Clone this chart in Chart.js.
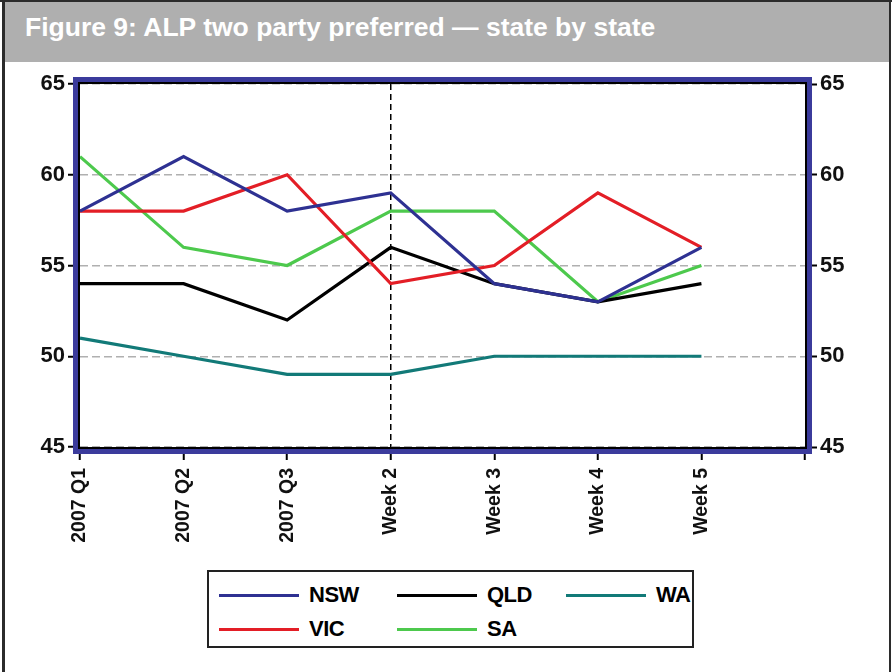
<!DOCTYPE html>
<html>
<head>
<meta charset="utf-8">
<script src="https://cdn.jsdelivr.net/npm/chart.js@4.4.1/dist/chart.umd.min.js"></script>
<style>
  body { margin: 0; background: #fff; font-family: "Liberation Sans", Arial, sans-serif; }
  #wrap { position: relative; width: 892px; height: 672px; overflow: hidden; background: #fff; }
  #edgeL { position: absolute; left: 2px; top: 0; width: 3px; height: 672px; background: #2b2b2b; }
  #edgeT { position: absolute; left: 0; top: 0; width: 892px; height: 2px; background: #2b2b2b; }
  #edgeR { position: absolute; right: 1px; top: 0; width: 2px; height: 672px; background: #2b2b2b; }
  #title { position: absolute; left: 5px; top: 2px; width: 884px; height: 60px; background: #afafaf;
           color: #fff; font-weight: bold; font-size: 26.5px; line-height: 50px; padding-left: 20px; box-sizing: border-box; }
  #box { position: absolute; left: 0; top: 62px; width: 892px; height: 500px; }
  #legend { position: absolute; left: 207px; top: 570px; width: 487px; height: 78px; border: 2px solid #222;
            box-sizing: border-box; display: grid; grid-template-rows: 34px 34px; grid-auto-flow: column;
            grid-template-columns: 178px 169px 130px; padding: 6px 0 0 10px; }
  .item { display: flex; align-items: center; font-weight: bold; font-size: 22px; color: #000; letter-spacing: -0.5px; }
  .item span.ln { display: inline-block; width: 80px; height: 3px; margin-right: 10px; }
</style>
</head>
<body>
<div id="wrap">
  <div id="title">Figure 9: ALP two party preferred — state by state</div>
  <div id="box"><canvas id="myChart"></canvas></div>
  <div id="legend"></div>
  <div id="edgeL"></div><div id="edgeT"></div><div id="edgeR"></div>
</div>
<script>
// categories (last slot is empty, the axis runs one step past Week 5)
const periodos = ["2007 Q1", "2007 Q2", "2007 Q3", "Week 2", "Week 3", "Week 4", "Week 5", ""];

// two party preferred, per state
const nsw = [58, 61, 58, 59, 54, 53, 56];
const vic = [58, 58, 60, 54, 55, 59, 56];
const qld = [54, 54, 52, 56, 54, 53, 54];
const sa  = [61, 56, 55, 58, 58, 53, 55];
const wa  = [51, 50, 49, 49, 50, 50, 50];

const yMin = 45, yMax = 65, yPaso = 5;

function serie(label, data, color) {
  return { label, data, borderColor: color, backgroundColor: color, borderWidth: 3.2,
           pointRadius: 0, tension: 0, fill: false };
}

// marco azul alrededor del area del grafico
const marco = {
  id: "marco",
  afterDraw(chart) {
    const { ctx, chartArea: a } = chart;
    ctx.save();
    ctx.strokeStyle = "#3b3b9c";
    ctx.lineWidth = 6;
    ctx.strokeRect(a.left - 4, a.top - 4, a.right - a.left + 8, a.bottom - a.top + 8);
    ctx.strokeStyle = "#000";
    ctx.lineWidth = 2;
    ctx.strokeRect(a.left - 1, a.top - 1, a.right - a.left + 2, a.bottom - a.top + 2);
    ctx.restore();
  }
};

const fuenteTick = { family: "'Liberation Sans', Arial, sans-serif", weight: "bold", size: 22 };

const config = {
  type: "line",
  data: {
    labels: periodos,
    datasets: [
      serie("NSW", nsw, "#2e3192"),
      serie("VIC", vic, "#e31e26"),
      serie("QLD", qld, "#000000"),
      serie("SA", sa, "#4dc94d"),
      serie("WA", wa, "#127a78"),
    ],
  },
  options: {
    responsive: true,
    maintainAspectRatio: false,
    animation: false,
    layout: { padding: { top: 22, bottom: 12, left: 0, right: 0 } },
    plugins: { legend: { display: false }, tooltip: { enabled: false } },
    scales: {
      x: {
        offset: false,
        afterFit: (s) => { s.height = 103; },
        grid: {
          color: (c) => (c.index === 3 ? "#000" : "rgba(0,0,0,0)"),
          lineWidth: 1.5,
          tickColor: "#000",
          tickLength: 13,
          tickWidth: 2,
        },
        border: { display: false, dash: [6, 4] },
        ticks: {
          autoSkip: false, minRotation: 90, maxRotation: 90, padding: 8, color: "#111",
          font: { family: "'Liberation Sans', Arial, sans-serif", weight: "bold", size: 19.5 },
        },
      },
      y: {
        position: "left",
        min: yMin, max: yMax,
        afterFit: (s) => { s.width = 80; },
        grid: { color: "#b0b0b0", lineWidth: 1.5, tickColor: "#000", tickLength: 12, tickWidth: 2 },
        border: { display: false, dash: [8, 4] },
        ticks: { stepSize: yPaso, padding: 3, color: "#111", font: fuenteTick },
      },
      y2: {
        position: "right",
        min: yMin, max: yMax,
        afterFit: (s) => { s.width = 87; },
        grid: { drawOnChartArea: false, tickColor: "#000", tickLength: 12, tickWidth: 2 },
        border: { display: false },
        ticks: { stepSize: yPaso, padding: 3, color: "#111", font: fuenteTick },
      },
    },
  },
  plugins: [marco],
};

const myChart = new Chart(document.querySelector("#myChart"), config);

// leyenda en HTML, a partir de los datasets
const leyenda = document.querySelector("#legend");
myChart.data.datasets.forEach(({ label, borderColor }) => {
  const item = document.createElement("div");
  item.className = "item";
  item.innerHTML = `<span class="ln" style="background:${borderColor}"></span>${label}`;
  leyenda.appendChild(item);
});
</script>
</body>
</html>
